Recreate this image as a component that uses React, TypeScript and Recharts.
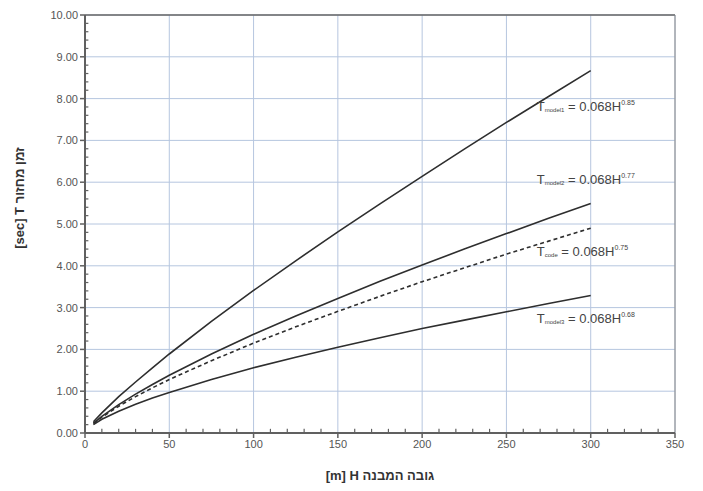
import {
  LineChart,
  Line,
  XAxis,
  YAxis,
  CartesianGrid,
  ReferenceLine,
  ReferenceDot,
} from 'recharts'

// building height H [m]
const HEIGHTS = [5, 10, 20, 30, 40, 50, 75, 100, 125, 150, 175, 200, 225, 250, 275, 300]
// period T [sec]
const T_MODEL1 = [0.27, 0.48, 0.87, 1.22, 1.56, 1.89, 2.67, 3.41, 4.12, 4.81, 5.48, 6.14, 6.79, 7.43, 8.05, 8.67]
const T_MODEL2 = [0.23, 0.4, 0.68, 0.93, 1.16, 1.38, 1.89, 2.36, 2.8, 3.22, 3.63, 4.02, 4.4, 4.77, 5.14, 5.49]
const T_CODE = [0.23, 0.38, 0.64, 0.87, 1.08, 1.28, 1.73, 2.15, 2.54, 2.91, 3.27, 3.62, 3.95, 4.28, 4.59, 4.9]
const T_MODEL3 = [0.2, 0.33, 0.52, 0.69, 0.84, 0.97, 1.28, 1.56, 1.81, 2.05, 2.28, 2.5, 2.7, 2.9, 3.1, 3.29]

const X_TICKS = [0, 50, 100, 150, 200, 250, 300, 350]
const Y_TICKS = [0, 1, 2, 3, 4, 5, 6, 7, 8, 9, 10]
// minor tick marks inside the plot (every 10 m, every 0.2 s)
const X_MINOR = [10, 20, 30, 40, 60, 70, 80, 90, 110, 120, 130, 140, 160, 170, 180, 190, 210, 220, 230, 240, 260, 270, 280, 290, 310, 320, 330, 340]
const Y_MINOR = Y_TICKS.slice(0, -1).flatMap((v) => [v + 0.2, v + 0.4, v + 0.6, v + 0.8])

// curve annotations: [subscript, exponent, H, T]
const NOTES: [string, string, number, number][] = [
  ['model1', '0.85', 268, 7.78],
  ['model2', '0.77', 268, 6.03],
  ['code', '0.75', 268, 4.31],
  ['model3', '0.68', 268, 2.7],
]

const FONT = '"Liberation Sans", Arial, sans-serif'
const LINE = '#2e2e2e'
const GRID = '#b6c6df'
const AXIS = '#606060'
const TICK = '#555'

const data = HEIGHTS.map((h, i) => ({
  h,
  m1: T_MODEL1[i],
  m2: T_MODEL2[i],
  code: T_CODE[i],
  m3: T_MODEL3[i],
}))

function NoteLabel({ viewBox, sub, exp }: { viewBox?: { x: number; y: number }; sub: string; exp: string }) {
  if (!viewBox) return null
  return (
    <text x={viewBox.x} y={viewBox.y} fontFamily={FONT} fontSize={13} fill="#444" dominantBaseline="middle">
      <tspan>T</tspan>
      <tspan fontSize={6} dy={2}>{sub}</tspan>
      <tspan dy={-2}> = 0.068H</tspan>
      <tspan fontSize={7} dy={-5}>{exp}</tspan>
    </text>
  )
}

function XTitle({ viewBox }: { viewBox?: { x: number; y: number; width: number } }) {
  if (!viewBox) return null
  return (
    <text x={viewBox.x + viewBox.width / 2} y={viewBox.y + 47} textAnchor="middle" fontFamily={FONT} fontSize={13} fontWeight="bold" fill="#333">
      [m] H גובה המבנה
    </text>
  )
}

function YTitle({ viewBox }: { viewBox?: { x: number; y: number; height: number } }) {
  if (!viewBox) return null
  const x = 24
  const y = 198
  return (
    <text x={x} y={y} transform={`rotate(-90, ${x}, ${y})`} textAnchor="middle" fontFamily={FONT} fontSize={13} fontWeight="bold" fill="#333">
      [sec] T זמן מחזור
    </text>
  )
}

export default function App() {
  return (
    <div style={{ position: 'absolute', left: 0, top: 0, width: 703, height: 491, background: '#fff' }}>
      <LineChart width={703} height={491} data={data} margin={{ top: 15, right: 28, left: 0, bottom: 0 }}>
        <CartesianGrid stroke={GRID} strokeWidth={1} />
        <XAxis
          dataKey="h"
          type="number"
          domain={[0, 350]}
          ticks={X_TICKS}
          height={58}
          tick={{ fontSize: 11, fill: TICK, fontFamily: FONT }}
          tickSize={5}
          tickLine={{ stroke: AXIS, strokeWidth: 1.5 }}
          axisLine={{ stroke: AXIS, strokeWidth: 2 }}
          label={<XTitle />}
        />
        <YAxis
          type="number"
          domain={[0, 10]}
          ticks={Y_TICKS}
          width={85}
          tickFormatter={(v: number) => v.toFixed(2)}
          tick={{ fontSize: 11, fill: TICK, fontFamily: FONT }}
          tickSize={5}
          tickLine={{ stroke: AXIS, strokeWidth: 1.5 }}
          axisLine={{ stroke: AXIS, strokeWidth: 2 }}
          label={<YTitle />}
        />
        <ReferenceLine y={10} stroke="#666" strokeWidth={1.5} />
        <ReferenceLine x={350} stroke="#888" strokeWidth={1} />
        {X_MINOR.map((h) => (
          <ReferenceLine key={`xm${h}`} segment={[{ x: h, y: 0 }, { x: h, y: 0.1 }]} stroke={AXIS} strokeWidth={1.2} ifOverflow="visible" />
        ))}
        {Y_MINOR.map((t) => (
          <ReferenceLine key={`ym${t}`} segment={[{ x: 0, y: t }, { x: 2, y: t }]} stroke={AXIS} strokeWidth={1.2} ifOverflow="visible" />
        ))}
        <Line dataKey="m1" stroke={LINE} strokeWidth={1.6} dot={false} isAnimationActive={false} />
        <Line dataKey="m2" stroke={LINE} strokeWidth={1.6} dot={false} isAnimationActive={false} />
        <Line dataKey="code" stroke={LINE} strokeWidth={1.6} strokeDasharray="4 3" dot={false} isAnimationActive={false} />
        <Line dataKey="m3" stroke={LINE} strokeWidth={1.6} dot={false} isAnimationActive={false} />
        {NOTES.map(([sub, exp, h, t]) => (
          <ReferenceDot key={sub} x={h} y={t} r={0} stroke="none" fill="none" label={<NoteLabel sub={sub} exp={exp} />} />
        ))}
      </LineChart>
    </div>
  )
}
